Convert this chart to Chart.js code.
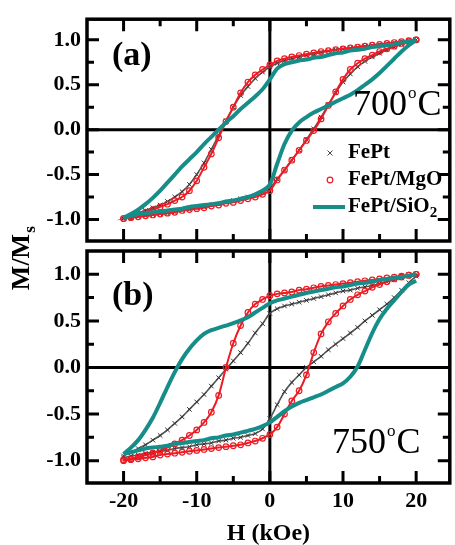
<!DOCTYPE html>
<html lang="en">
<head>
<meta charset="UTF-8" />
<title>FePt hysteresis loops</title>
<script src="https://cdn.jsdelivr.net/npm/chart.js"></script>
<style>
  html, body { margin: 0; padding: 0; background: #fff; }
  .wrap { position: relative; width: 455px; height: 545px; }
  .wrap canvas { position: absolute; left: 0; top: 0; }
</style>
</head>
<body>
<div class="wrap">
  <canvas id="chartA" width="455" height="545"></canvas>
  <canvas id="chartB" width="455" height="545"></canvas>
</div>
<script>
  // field values (kOe): descending branch then ascending branch
  const hDown = [20, 19, 18, 17, 16, 15, 14, 13, 12, 11, 10, 9, 8, 7, 6, 5, 4, 3, 2, 1, 0,
    -1, -2, -3, -4, -5, -6, -7, -8, -9, -10, -11, -12, -13, -14, -15, -16, -17, -18, -19, -20];
  const hUp = [-20, -19, -18, -17, -16, -15, -14, -13, -12, -11, -10, -9, -8, -7, -6, -5, -4, -3, -2, -1, 0,
    1, 2, 3, 4, 5, 6, 7, 8, 9, 10, 11, 12, 13, 14, 15, 16, 17, 18, 19, 20];

  // (a) 700 C
  const fePtA_down = [1.00, 0.99, 0.98, 0.97, 0.96, 0.95, 0.94, 0.93, 0.92, 0.91, 0.90, 0.89, 0.875, 0.86, 0.845, 0.83, 0.81, 0.79, 0.77, 0.74, 0.70,
    0.64, 0.57, 0.48, 0.38, 0.25, 0.10, -0.06, -0.22, -0.37, -0.50, -0.61, -0.69, -0.75, -0.80, -0.84, -0.87, -0.90, -0.93, -0.96, -0.99];
  const fePtA_up = [-0.99, -0.98, -0.97, -0.96, -0.95, -0.94, -0.93, -0.92, -0.90, -0.89, -0.87, -0.86, -0.84, -0.83, -0.81, -0.79, -0.77, -0.75, -0.73, -0.70, -0.65,
    -0.55, -0.45, -0.34, -0.23, -0.11, 0.01, 0.14, 0.28, 0.41, 0.53, 0.62, 0.70, 0.76, 0.81, 0.85, 0.89, 0.92, 0.95, 0.97, 1.00];
  const mgoA_down = [1.00, 0.99, 0.98, 0.97, 0.96, 0.95, 0.94, 0.93, 0.92, 0.91, 0.90, 0.89, 0.88, 0.87, 0.855, 0.84, 0.825, 0.81, 0.79, 0.765, 0.72,
    0.67, 0.61, 0.53, 0.41, 0.25, 0.09, -0.09, -0.27, -0.42, -0.57, -0.68, -0.75, -0.79, -0.83, -0.86, -0.89, -0.92, -0.94, -0.97, -0.99];
  const mgoA_up = [-0.99, -0.98, -0.97, -0.96, -0.95, -0.94, -0.93, -0.92, -0.90, -0.89, -0.88, -0.87, -0.85, -0.84, -0.82, -0.81, -0.79, -0.77, -0.75, -0.72, -0.68,
    -0.56, -0.45, -0.34, -0.23, -0.12, -0.01, 0.12, 0.27, 0.42, 0.56, 0.67, 0.74, 0.79, 0.83, 0.87, 0.90, 0.93, 0.96, 0.98, 1.00];
  const sio2A_down = [1.00, 0.98, 0.97, 0.95, 0.94, 0.93, 0.92, 0.90, 0.89, 0.88, 0.86, 0.85, 0.83, 0.81, 0.80, 0.78, 0.77, 0.75, 0.73, 0.68, 0.56,
    0.45, 0.37, 0.30, 0.23, 0.15, 0.08, 0.00, -0.08, -0.16, -0.25, -0.33, -0.41, -0.50, -0.59, -0.68, -0.76, -0.83, -0.89, -0.94, -0.98];
  const sio2A_up = [-0.98, -0.96, -0.94, -0.93, -0.92, -0.91, -0.90, -0.89, -0.88, -0.86, -0.85, -0.84, -0.83, -0.82, -0.80, -0.79, -0.77, -0.75, -0.72, -0.68, -0.61,
    -0.38, -0.16, -0.01, 0.08, 0.14, 0.19, 0.23, 0.27, 0.31, 0.35, 0.39, 0.44, 0.50, 0.56, 0.63, 0.71, 0.79, 0.87, 0.94, 1.00];

  // (b) 750 C
  const fePtB_down = [1.00, 0.98, 0.96, 0.94, 0.92, 0.90, 0.88, 0.865, 0.85, 0.83, 0.82, 0.80, 0.78, 0.76, 0.74, 0.72, 0.70, 0.68, 0.66, 0.63, 0.58,
    0.47, 0.37, 0.26, 0.16, 0.07, -0.02, -0.11, -0.20, -0.29, -0.37, -0.45, -0.53, -0.60, -0.67, -0.73, -0.78, -0.83, -0.87, -0.91, -0.95];
  const fePtB_up = [-0.97, -0.95, -0.94, -0.92, -0.91, -0.90, -0.89, -0.87, -0.86, -0.85, -0.83, -0.82, -0.81, -0.79, -0.78, -0.76, -0.75, -0.73, -0.71, -0.66, -0.55,
    -0.40, -0.26, -0.16, -0.08, 0.00, 0.06, 0.12, 0.19, 0.25, 0.31, 0.37, 0.43, 0.50, 0.56, 0.62, 0.68, 0.75, 0.83, 0.91, 0.98];
  const mgoB_down = [1.00, 0.99, 0.98, 0.97, 0.96, 0.95, 0.94, 0.93, 0.92, 0.91, 0.90, 0.89, 0.88, 0.87, 0.855, 0.84, 0.83, 0.81, 0.80, 0.79, 0.77,
    0.73, 0.68, 0.59, 0.45, 0.26, 0.00, -0.30, -0.48, -0.59, -0.67, -0.73, -0.78, -0.82, -0.86, -0.89, -0.92, -0.94, -0.96, -0.98, -0.99];
  const mgoB_up = [-1.00, -0.99, -0.98, -0.97, -0.96, -0.94, -0.93, -0.92, -0.91, -0.90, -0.89, -0.88, -0.87, -0.86, -0.85, -0.84, -0.83, -0.81, -0.79, -0.76, -0.72,
    -0.64, -0.50, -0.36, -0.25, -0.08, 0.16, 0.36, 0.49, 0.58, 0.66, 0.73, 0.78, 0.82, 0.86, 0.89, 0.92, 0.95, 0.97, 0.99, 1.00];
  const sio2B_down = [1.00, 0.985, 0.97, 0.96, 0.95, 0.94, 0.92, 0.91, 0.90, 0.885, 0.87, 0.86, 0.845, 0.83, 0.815, 0.80, 0.78, 0.76, 0.74, 0.72, 0.69,
    0.64, 0.59, 0.54, 0.505, 0.475, 0.45, 0.425, 0.40, 0.36, 0.29, 0.20, 0.09, -0.05, -0.21, -0.38, -0.54, -0.67, -0.78, -0.86, -0.93];
  const sio2B_up = [-0.93, -0.91, -0.89, -0.87, -0.86, -0.85, -0.84, -0.82, -0.81, -0.80, -0.79, -0.78, -0.76, -0.75, -0.73, -0.72, -0.70, -0.68, -0.66, -0.63, -0.59,
    -0.53, -0.47, -0.42, -0.38, -0.35, -0.32, -0.29, -0.25, -0.21, -0.17, -0.10, 0.01, 0.19, 0.37, 0.52, 0.63, 0.72, 0.81, 0.89, 0.93];

  // axes
  const xTicks = [-20, -10, 0, 10, 20];
  const xMinorTicks = [-15, -5, 5, 15];
  const yTicks = [-1, -0.5, 0, 0.5, 1];
  const yMinorTicks = [-0.75, -0.25, 0.25, 0.75];
  const seriesNames = ['FePt', 'FePt/MgO', 'FePt/SiO'];

  const SERIF = "'Liberation Serif', 'Times New Roman', serif";
  const TEAL = '#178d89';
  const RED = '#ec1c24';

  const pts = (hs, ms) => hs.map((h, i) => ({ x: h, y: ms[i] }));

  function makeDatasets(fDown, fUp, mDown, mUp, sDown, sUp) {
    const fept = {
      showLine: true, borderColor: '#555', borderWidth: 1.6, tension: 0.3,
      pointStyle: 'crossRot', pointRadius: 3.2, pointBorderColor: '#333', pointBorderWidth: 1, order: 3,
    };
    const mgo = {
      showLine: true, borderColor: RED, borderWidth: 2, tension: 0.3,
      pointStyle: 'circle', pointRadius: 2.8, pointBorderColor: RED, pointBorderWidth: 1.2,
      pointBackgroundColor: 'rgba(255,255,255,0)', order: 2,
    };
    const sio2 = { showLine: true, borderColor: TEAL, borderWidth: 4, tension: 0.3, pointRadius: 0, order: 1 };
    return [
      { ...fept, label: seriesNames[0], data: pts(hDown, fDown).concat(pts(hUp, fUp)) },
      { ...mgo, label: seriesNames[1], data: pts(hDown, mDown).concat(pts(hUp, mUp)) },
      { ...sio2, label: seriesNames[2] + '2 down', data: pts(hDown, sDown) },
      { ...sio2, label: seriesNames[2] + '2 up', data: pts(hUp, sUp) },
    ];
  }

  // frame, zero lines, inward ticks, panel texts
  const panelPlugin = {
    id: 'panel',
    beforeDatasetsDraw(chart) {
      const { ctx, chartArea: a, scales: { x, y } } = chart;
      const x0 = x.getPixelForValue(0), y0 = y.getPixelForValue(0);
      ctx.save();
      ctx.strokeStyle = '#000';
      ctx.lineWidth = 3;
      ctx.beginPath();
      ctx.moveTo(a.left, y0); ctx.lineTo(a.right, y0);
      ctx.moveTo(x0, a.top); ctx.lineTo(x0, a.bottom);
      ctx.stroke();
      ctx.restore();
    },
    afterDraw(chart, args, opts) {
      const { ctx, chartArea: a, scales: { x, y } } = chart;
      ctx.save();
      ctx.strokeStyle = '#000';
      ctx.lineWidth = 3;
      ctx.beginPath();
      const tick = (vals, len) => {
        vals.forEach(v => {
          const px = x.getPixelForValue(v);
          ctx.moveTo(px, a.top); ctx.lineTo(px, a.top + len);
          ctx.moveTo(px, a.bottom); ctx.lineTo(px, a.bottom - len);
        });
      };
      const ytick = (vals, len) => {
        vals.forEach(v => {
          const py = y.getPixelForValue(v);
          ctx.moveTo(a.left, py); ctx.lineTo(a.left + len, py);
          ctx.moveTo(a.right, py); ctx.lineTo(a.right - len, py);
        });
      };
      tick(xTicks, 12); tick(xMinorTicks, 7);
      ytick(yTicks, 12); ytick(yMinorTicks, 7);
      ctx.stroke();
      ctx.lineWidth = 3.5;
      ctx.strokeRect(a.left, a.top, a.right - a.left, a.bottom - a.top);

      ctx.fillStyle = '#000';
      ctx.textBaseline = 'alphabetic';
      ctx.textAlign = 'left';
      // panel letter
      ctx.font = 'bold 34px ' + SERIF;
      ctx.fillText(opts.letter, 112, opts.letterY);
      // temperature
      ctx.font = '36px ' + SERIF;
      let tx = opts.tempX;
      ctx.fillText(opts.temp, tx, opts.tempY);
      tx += ctx.measureText(opts.temp).width + 1;
      ctx.font = '17px ' + SERIF;
      ctx.fillText('o', tx, opts.tempY - 17);
      tx += ctx.measureText('o').width + 1;
      ctx.font = '36px ' + SERIF;
      ctx.fillText('C', tx, opts.tempY);

      if (opts.legend) {
        const lx = 330, tx0 = 348, rows = [153, 180, 207];
        ctx.font = 'bold 21px ' + SERIF;
        ctx.textBaseline = 'middle';
        // FePt marker
        ctx.strokeStyle = '#444';
        ctx.lineWidth = 1;
        ctx.beginPath();
        ctx.moveTo(lx - 2.5, rows[0] - 2.5); ctx.lineTo(lx + 2.5, rows[0] + 2.5);
        ctx.moveTo(lx - 2.5, rows[0] + 2.5); ctx.lineTo(lx + 2.5, rows[0] - 2.5);
        ctx.stroke();
        // MgO marker
        ctx.strokeStyle = RED;
        ctx.lineWidth = 1.2;
        ctx.beginPath();
        ctx.arc(lx, rows[1], 2.8, 0, Math.PI * 2);
        ctx.stroke();
        // SiO2 line
        ctx.strokeStyle = TEAL;
        ctx.lineWidth = 4;
        ctx.beginPath();
        ctx.moveTo(313, rows[2]); ctx.lineTo(345, rows[2]);
        ctx.stroke();
        ctx.fillText(seriesNames[0], tx0, rows[0]);
        ctx.fillText(seriesNames[1], tx0, rows[1]);
        ctx.fillText(seriesNames[2], tx0, rows[2]);
        const w = ctx.measureText(seriesNames[2]).width;
        ctx.font = 'bold 15px ' + SERIF;
        ctx.fillText('2', tx0 + w, rows[2] + 6);
      }

      if (opts.yTitle) {
        ctx.translate(22, 257);
        ctx.rotate(-Math.PI / 2);
        ctx.textBaseline = 'middle';
        ctx.font = 'bold 26px ' + SERIF;
        const w = ctx.measureText('M/M').width;
        ctx.fillText('M/M', -w / 2 - 5, 0);
        ctx.font = 'bold 17px ' + SERIF;
        ctx.fillText('s', w / 2 - 4, 9);
      }
      ctx.restore();
    },
  };

  const tickFont = { family: SERIF, size: 22, weight: 'bold' };

  function makeChart(id, datasets, opt) {
    return new Chart(document.getElementById(id), {
      type: 'scatter',
      data: { datasets },
      options: {
        responsive: false,
        animation: false,
        layout: { padding: opt.padding },
        plugins: {
          legend: { display: false },
          tooltip: { enabled: false },
          panel: opt.panel,
        },
        scales: {
          x: {
            type: 'linear', min: -25, max: 24.6,
            grid: { display: false, drawTicks: false },
            border: { display: false },
            afterBuildTicks: s => { s.ticks = xTicks.map(v => ({ value: v })); },
            afterFit: s => { s.height = opt.showX ? 62 : 0; },
            ticks: { display: opt.showX, padding: 5, color: '#000', font: tickFont, callback: v => String(v) },
            title: {
              display: opt.showX, text: 'H (kOe)', color: '#000', padding: 0,
              font: { family: SERIF, size: 24, weight: 'bold', lineHeight: 0.9 },
            },
          },
          y: {
            type: 'linear', min: opt.yMin, max: opt.yMax,
            grid: { display: false, drawTicks: false },
            border: { display: false },
            afterBuildTicks: s => { s.ticks = yTicks.map(v => ({ value: v })); },
            afterFit: s => { s.width = 87; },
            ticks: { padding: 6, color: '#000', font: tickFont, callback: v => v.toFixed(1) },
          },
        },
      },
      plugins: [panelPlugin],
    });
  }

  makeChart('chartA', makeDatasets(fePtA_down, fePtA_up, mgoA_down, mgoA_up, sio2A_down, sio2A_up), {
    padding: { top: 12, right: 2, bottom: 304, left: 0 },
    showX: false, yMin: -1.24, yMax: 1.23,
    panel: { letter: '(a)', letterY: 65, temp: '700', tempX: 353, tempY: 115, legend: true },
  });

  makeChart('chartB', makeDatasets(fePtB_down, fePtB_up, mgoB_down, mgoB_up, sio2B_down, sio2B_up), {
    padding: { top: 251, right: 2, bottom: 0, left: 0 },
    showX: true, yMin: -1.24, yMax: 1.25,
    panel: { letter: '(b)', letterY: 305, temp: '750', tempX: 332, tempY: 453, yTitle: true },
  });
</script>
</body>
</html>
